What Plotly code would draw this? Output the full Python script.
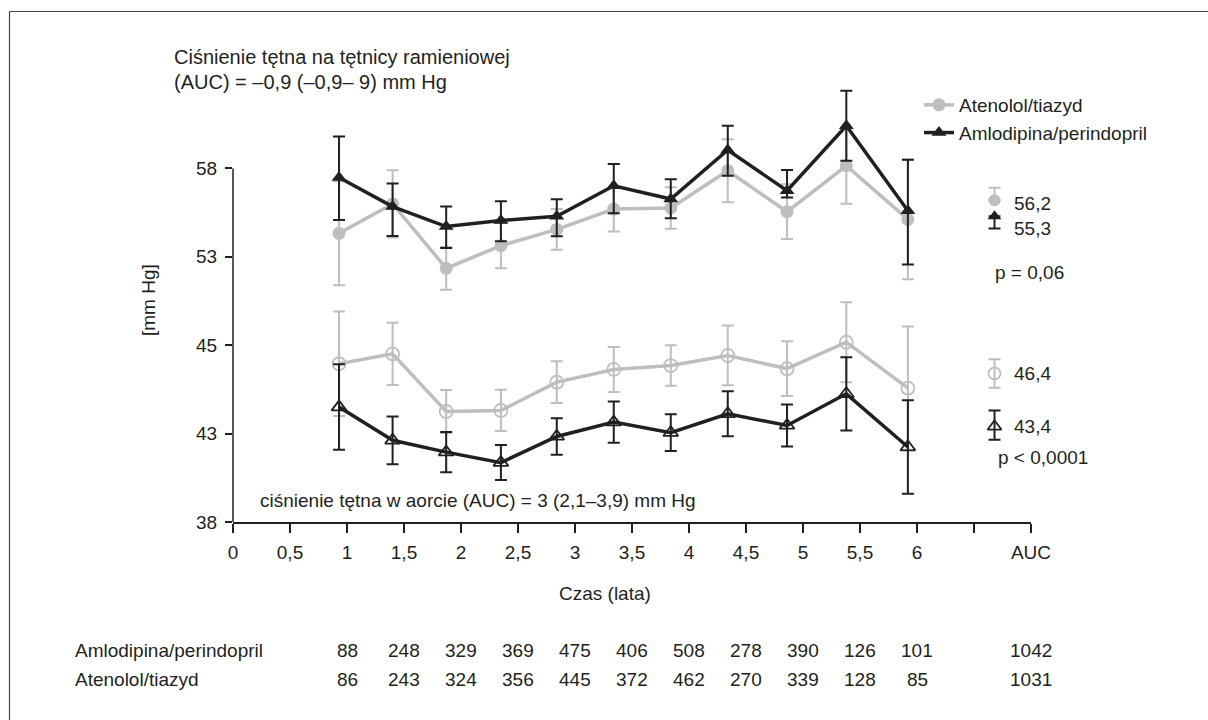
import plotly.graph_objects as go

# ---- data -------------------------------------------------------------
years = [0.93, 1.40, 1.87, 2.35, 2.84, 3.34, 3.84, 4.34, 4.86, 5.38, 5.92]

# brachial pulse pressure
ateno_brach = [54.33, 55.99, 52.35, 53.63, 54.55, 55.70, 55.76, 57.87, 55.55, 58.15, 55.12]
ateno_brach_err = [2.94, 1.90, 1.22, 1.28, 1.15, 1.27, 1.18, 1.78, 1.55, 2.15, 3.39]
amlo_brach = [57.49, 55.84, 54.71, 55.05, 55.29, 57.02, 56.27, 59.04, 56.74, 60.41, 55.61]
amlo_brach_err_up = [2.32, 1.31, 1.13, 1.09, 0.96, 1.23, 1.11, 1.37, 1.17, 1.98, 2.88]
amlo_brach_err_dn = [2.41, 1.66, 1.21, 1.17, 1.13, 1.56, 1.09, 1.45, 0.38, 1.98, 3.05]

# aortic pulse pressure
ateno_aorta = [46.95, 47.51, 44.25, 44.31, 45.91, 46.63, 46.85, 47.42, 46.67, 48.17, 45.57]
ateno_aorta_err = [2.96, 1.76, 1.22, 1.17, 1.18, 1.27, 1.15, 1.69, 1.55, 2.26, 3.49]
amlo_aorta = [44.50, 42.62, 41.95, 41.36, 42.84, 43.65, 43.05, 44.12, 43.46, 45.25, 42.24]
amlo_aorta_err = [2.42, 1.35, 1.14, 0.99, 1.03, 1.17, 1.04, 1.27, 1.19, 2.07, 2.64]

# AUC summary values
auc_x = 6.68
auc_ateno_brach = 56.2
auc_amlo_brach = 55.3
auc_ateno_aorta = 46.4
auc_amlo_aorta = 43.4

# axis ticks
x_tickvals = [0, 0.5, 1, 1.5, 2, 2.5, 3, 3.5, 4, 4.5, 5, 5.5, 6, 6.5, 7]
x_ticktext = ["0", "0,5", "1", "1,5", "2", "2,5", "3", "3,5", "4", "4,5",
              "5", "5,5", "6", "", "AUC"]
y_tickvals = [38, 43, 48, 53, 58]
y_ticktext = ["38", "43", "45", "53", "58"]

# patients at risk table
table_cols = [1, 1.5, 2, 2.5, 3, 3.5, 4, 4.5, 5, 5.5, 6, 7]
amlo_n = [88, 248, 329, 369, 475, 406, 508, 278, 390, 126, 101, 1042]
ateno_n = [86, 243, 324, 356, 445, 372, 462, 270, 339, 128, 85, 1031]

# ---- style ------------------------------------------------------------
INK = "#231f20"
GREY = "#bcbec0"
FONT = "Liberation Sans, Arial, sans-serif"
FS = 19

W, H = 1208, 720
L, R, T, B = 233, 177, 80, 198
PW, PH = W - L - R, H - T - B


def px_x(px):
    return (px - L) / PW


def px_y(py):
    return (H - B - py) / PH


fig = go.Figure()


def err(up, dn=None, color=INK):
    d = dict(type="data", array=up, color=color, thickness=2, width=6, visible=True)
    if dn is not None:
        d["symmetric"] = False
        d["arrayminus"] = dn
    return d


# upper block: brachial
fig.add_trace(go.Scatter(
    x=years, y=ateno_brach, mode="lines+markers", name="Atenolol/tiazyd",
    line=dict(color=GREY, width=3.5),
    marker=dict(symbol="circle", size=13, color=GREY),
    error_y=err(ateno_brach_err, color=GREY)))
fig.add_trace(go.Scatter(
    x=years, y=amlo_brach, mode="lines+markers", name="Amlodipina/perindopril",
    line=dict(color=INK, width=3.5),
    marker=dict(symbol="triangle-up", size=13, color=INK),
    error_y=err(amlo_brach_err_up, amlo_brach_err_dn)))

# lower block: aorta
fig.add_trace(go.Scatter(
    x=years, y=ateno_aorta, mode="lines+markers", showlegend=False,
    line=dict(color=GREY, width=3.5),
    marker=dict(symbol="circle-open", size=13, color=GREY, line=dict(width=1.8)),
    error_y=err(ateno_aorta_err, color=GREY)))
fig.add_trace(go.Scatter(
    x=years, y=amlo_aorta, mode="lines+markers", showlegend=False,
    line=dict(color=INK, width=3.5),
    marker=dict(symbol="triangle-up-open", size=13, color=INK, line=dict(width=1.8)),
    error_y=err(amlo_aorta_err)))

# AUC key glyphs
fig.add_trace(go.Scatter(
    x=[auc_x], y=[auc_ateno_brach], mode="markers", showlegend=False,
    marker=dict(symbol="circle", size=12, color=GREY),
    error_y=err([0.7], [0], color=GREY)))
fig.add_trace(go.Scatter(
    x=[auc_x], y=[auc_amlo_brach], mode="markers", showlegend=False,
    marker=dict(symbol="triangle-up", size=12, color=INK),
    error_y=err([0], [0.7])))
fig.add_trace(go.Scatter(
    x=[auc_x], y=[auc_ateno_aorta], mode="markers", showlegend=False,
    marker=dict(symbol="circle-open", size=12, color=GREY, line=dict(width=1.8)),
    error_y=err([0.8], color=GREY)))
fig.add_trace(go.Scatter(
    x=[auc_x], y=[auc_amlo_aorta], mode="markers", showlegend=False,
    marker=dict(symbol="triangle-up-open", size=12, color=INK, line=dict(width=1.8)),
    error_y=err([0.9], [0.75])))

ann = []


def text(x, y, s, xref="paper", yref="paper", xanchor="left", size=FS, **kw):
    ann.append(dict(x=x, y=y, xref=xref, yref=yref, text=s, showarrow=False,
                    xanchor=xanchor, yanchor="middle",
                    font=dict(family=FONT, size=size, color=INK), **kw))


# AUC value labels beside their glyphs; the two brachial ones are nudged
# apart so they do not collide
auc_labels = [(auc_ateno_brach, -3), (auc_amlo_brach, -12),
              (auc_ateno_aorta, 0), (auc_amlo_aorta, 0)]
for v, shift in auc_labels:
    text(6.83, v, f"{v:.1f}".replace(".", ","), xref="x", yref="y", yshift=shift)

text(px_x(993), px_y(272), "p = 0,06")
text(px_x(996), px_y(457), "p < 0,0001")

text(px_x(172), px_y(57), "Ciśnienie tętna na tętnicy ramieniowej", size=20)
text(px_x(172), px_y(82), "(AUC) = –0,9 (–0,9– 9) mm Hg", size=20)
text(px_x(258), px_y(500), "ciśnienie tętna w aorcie (AUC) = 3 (2,1–3,9) mm Hg")
text(px_x(605), px_y(593), "Czas (lata)", xanchor="center")
text(px_x(148), px_y(300), "[mm Hg]", xanchor="center", textangle=-90)

# patients table
text(px_x(73), px_y(650), "Amlodipina/perindopril")
text(px_x(73), px_y(679), "Atenolol/tiazyd")
for c, a, b in zip(table_cols, amlo_n, ateno_n):
    text(c, px_y(650), str(a), xref="x", xanchor="center")
    text(c, px_y(679), str(b), xref="x", xanchor="center")

shapes = [
    # y axis line spans only the labelled range
    dict(type="line", xref="paper", yref="y", x0=0, x1=0, y0=38, y1=58,
         line=dict(color=INK, width=1.5)),
    # outer frame
    dict(type="line", xref="paper", yref="paper", x0=px_x(9.5), x1=px_x(1240),
         y0=px_y(11.5), y1=px_y(11.5), line=dict(color="#444", width=1.2)),
    dict(type="line", xref="paper", yref="paper", x0=px_x(9.5), x1=px_x(9.5),
         y0=px_y(11.5), y1=px_y(760), line=dict(color="#444", width=1.2)),
]

fig.update_layout(
    width=W, height=H,
    margin=dict(l=L, r=R, t=T, b=B),
    paper_bgcolor="white", plot_bgcolor="white",
    font=dict(family=FONT, size=FS, color=INK),
    annotations=ann, shapes=shapes,
    legend=dict(x=px_x(919), y=px_y(86), xanchor="left", yanchor="top",
                bgcolor="rgba(0,0,0,0)", font=dict(family=FONT, size=FS, color=INK),
                itemwidth=30, tracegroupgap=0),
    xaxis=dict(range=[0, 7], tickvals=x_tickvals, ticktext=x_ticktext,
               showline=True, linecolor=INK, linewidth=1.5,
               ticks="outside", ticklen=9, tickwidth=1.5, tickcolor=INK,
               showgrid=False, zeroline=False, ticklabelstandoff=3,
               tickfont=dict(family=FONT, size=FS, color=INK)),
    yaxis=dict(range=[38, 63], tickvals=y_tickvals, ticktext=y_ticktext,
               showline=False, ticks="outside", ticklen=7, tickwidth=1.5,
               tickcolor=INK, showgrid=False, zeroline=False,
               ticklabelstandoff=4,
               tickfont=dict(family=FONT, size=FS, color=INK)),
)

fig.write_html("out.html")
